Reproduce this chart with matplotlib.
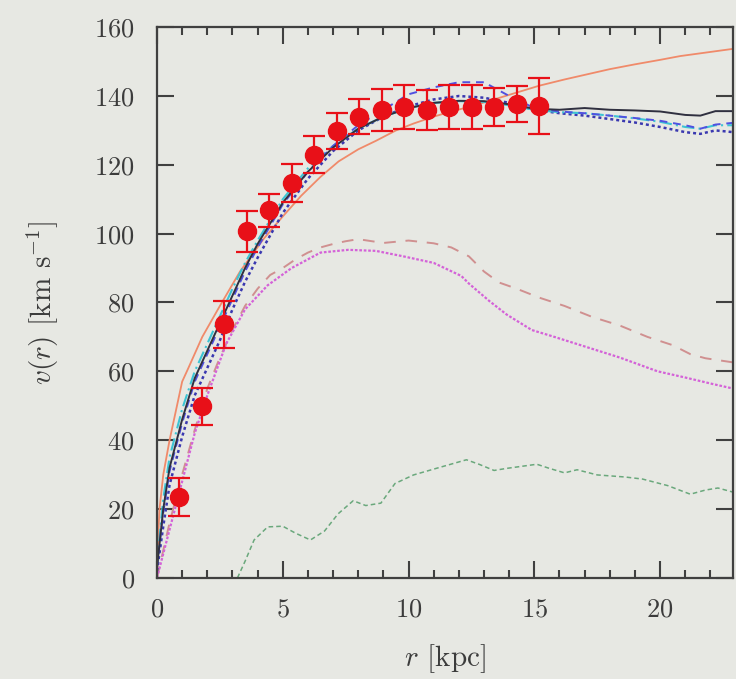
import matplotlib
matplotlib.use("Agg")
import matplotlib.pyplot as plt
from matplotlib.ticker import MultipleLocator

# ---- data ----
r_obs = [0.88, 1.77, 2.67, 3.56, 4.46, 5.35, 6.25, 7.14, 8.04, 8.93, 9.83,
         10.72, 11.62, 12.51, 13.41, 14.30, 15.20]
v_obs = [23.6, 49.8, 73.7, 100.7, 106.8, 114.8, 123.0, 129.8, 134.0, 135.9,
         136.8, 135.9, 136.8, 136.8, 136.8, 137.6, 137.0]
e_obs = [5.5, 5.5, 6.8, 6.0, 4.8, 5.5, 5.5, 5.2, 5.0, 6.0, 6.3, 5.8, 6.3,
         6.3, 5.5, 5.3, 8.1]

r_mod = [0, 0.25, 0.5, 1.0, 1.5, 2.0, 2.5, 3.0, 3.5, 4.0, 5.0, 6.0, 7.0, 8.0,
         9.0, 10.0, 11.0, 12.0, 13.0, 14.0, 15.0, 16.0, 17.0, 18.0, 19.0, 20.0,
         21.0, 21.6, 22.2, 22.9]
v_total = [3, 20, 32, 46, 58, 66, 74, 82, 90, 97, 109, 118, 125, 130.5, 134,
           136.5, 138, 138.6, 138.5, 137.6, 136.3, 136, 136.5, 136, 135.8,
           135.5, 134.5, 134.3, 135.6, 135.6]
v_blue_dash = [3, 19, 31, 45, 57, 65, 73, 81, 89, 96, 108.5, 118, 125.5, 131.5,
               136, 140.5, 142.5, 144, 144, 140, 136.5, 135.5, 135, 134.3,
               133.6, 132.8, 131.5, 130.5, 131.7, 132.2]
v_cyan = [4, 23, 35, 49, 60, 68, 76, 84, 91.5, 98, 110, 119, 125.5, 130.5, 134,
          136.5, 138, 138.5, 138.3, 137.3, 136, 135.3, 135, 134.3, 133.5, 132.5,
          131, 130.5, 131.5, 131.5]
v_blue_dot = [2, 15, 27, 41, 53, 61, 69, 78, 86, 93, 106, 116, 124, 130, 134,
              137, 139, 140, 139.5, 138, 136, 135, 134.3, 133.3, 132.3, 131,
              129.5, 129, 130, 129.5]

r_orange = [0, 0.05, 0.1, 0.25, 0.5, 1.0, 1.25, 1.8, 2.5, 3.3, 4.24, 5.0, 5.73,
            6.5, 7.22, 8.0, 8.71, 9.5, 10.2, 11.0, 11.7, 12.5, 13.4, 14.3, 15.2,
            16.2, 17.1, 18.0, 19.0, 20.0, 20.8, 22.0, 22.9]
v_orange = [0, 12, 20, 30, 40, 57, 61, 70, 79, 89, 98.5, 105, 111, 116.5, 121,
            124.5, 127, 130, 132, 134, 135.5, 137, 139, 141, 143, 144.8,
            146.3, 147.8, 149.2, 150.5, 151.6, 152.8, 153.7]

r_disk_dash = [0, 0.5, 1, 1.5, 2, 2.5, 3, 3.5, 4, 4.5, 5, 5.5, 6, 6.5, 7, 7.5,
               8, 9, 10, 11, 11.7, 12.4, 13, 13.6, 14.3, 15.2, 16.2, 17.3, 18.4,
               19.5, 20.5, 21.2, 21.8, 22.9]
v_disk_dash = [0, 16, 30, 43, 55, 64, 72, 79, 84, 88, 90, 92.5, 94.5, 96, 97,
               97.8, 98.4, 97.3, 98, 97.2, 96, 93.4, 89, 85.8, 84, 81.4, 79,
               75.8, 73.3, 70, 67.6, 65, 63.8, 62.6]

r_disk_dot = [0, 0.5, 1, 1.5, 2, 2.75, 3.5, 4.4, 5.35, 6.5, 7.6, 8.7, 9.8, 11,
              12.1, 12.4, 13.2, 13.9, 14.9, 15.8, 17.1, 18.4, 19.9, 21, 22.1,
              22.9]
v_disk_dot = [0, 14, 28, 42, 53, 68, 78, 85, 90, 94.5, 95.3, 95, 93.4, 91.5,
              87.7, 85.5, 80.5, 76.5, 72, 70, 67, 64, 60, 58.2, 56.3, 55]

r_gas = [3.2, 3.5, 3.86, 4.4, 5.0, 5.5, 6.1, 6.66, 7.2, 7.8, 8.3, 8.9, 9.46,
         10.2, 11.1, 12.3, 12.8, 13.4, 13.9, 15.1, 15.6, 16.2, 16.7, 17.5,
         18.6, 19.3, 20.3, 21.2, 21.8, 22.3, 22.9]
v_gas = [0, 4.8, 11, 14.8, 15, 13, 11, 13.6, 18.6, 22.4, 21, 21.7, 27.4, 29.9,
         31.8, 34.3, 33, 31.2, 31.8, 33, 31.8, 30.5, 31.4, 29.9, 29.3, 28.7,
         26.8, 24.3, 25.5, 26.1, 24.9]

x_ticks = [0, 5, 10, 15, 20]
y_ticks = [0, 20, 40, 60, 80, 100, 120, 140, 160]

# ---- style ----
bg = "#e7e8e3"
txt = "#3c3c3c"
plt.rcParams["font.family"] = ["cmr10", "DejaVu Serif"]
plt.rcParams["mathtext.fontset"] = "cm"
plt.rcParams["axes.unicode_minus"] = False
plt.rcParams["axes.formatter.use_mathtext"] = True

fig = plt.figure(figsize=(7.36, 6.79), dpi=100, facecolor=bg)
ax = fig.add_axes([0.2133, 0.149, 0.7827, 0.811], facecolor=bg)

ax.plot(r_orange, v_orange, color="#f08a6a", lw=1.3, ls="-")
ax.plot(r_disk_dash, v_disk_dash, color="#d09090", lw=1.4, ls=(0, (6, 5)))
ax.plot(r_disk_dot, v_disk_dot, color="#d462d8", lw=1.6, ls=(0, (1.2, 0.8)))
ax.plot(r_gas, v_gas, color="#6aa87c", lw=1.1, ls=(0, (3, 2)))
ax.plot(r_mod, v_blue_dot, color="#3a38b0", lw=1.8, ls=(0, (1.2, 1.2)))
ax.plot(r_mod, v_cyan, color="#3cc4d4", lw=1.5, ls=(0, (6, 2, 1, 2)))
ax.plot(r_mod, v_blue_dash, color="#5050e0", lw=1.4, ls=(0, (4, 3)))
ax.plot(r_mod, v_total, color="#303040", lw=1.4, ls="-")

ax.errorbar(r_obs, v_obs, yerr=e_obs, fmt="o", color="#e81018",
            markersize=13, elinewidth=1.6, capsize=8, capthick=1.6,
            zorder=5)

ax.set_xlim(0, 22.9)
ax.set_ylim(0, 160)
ax.set_xticks(x_ticks)
ax.set_yticks(y_ticks)
ax.xaxis.set_minor_locator(MultipleLocator(1))

ax.tick_params(axis="both", which="major", direction="in", length=12,
               width=1.5, color="#404040", labelsize=19, labelcolor=txt)
ax.tick_params(axis="y", which="major", pad=16)
ax.tick_params(axis="x", which="major", pad=14)
ax.tick_params(axis="x", which="minor", direction="in", length=6,
               width=1.5, color="#404040", top=True, bottom=True)
ax.tick_params(axis="x", which="major", top=True)
ax.tick_params(axis="y", which="major", right=True)

for s in ax.spines.values():
    s.set_color("#404040")
    s.set_linewidth(1.6)

ax.set_xlabel(r"$r$ [kpc]", fontsize=21, color=txt, labelpad=15)
ax.set_ylabel(r"$v(r)$ [km s$^{-1}$]", fontsize=21, color=txt,
              labelpad=24)

fig.savefig("out.png", dpi=100, facecolor=bg)
